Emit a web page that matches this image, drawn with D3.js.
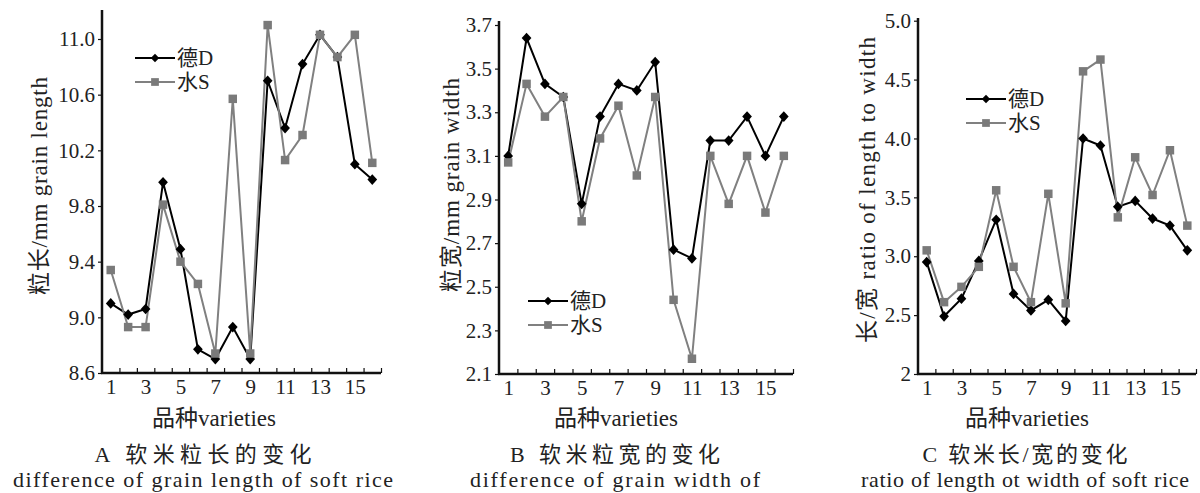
<!DOCTYPE html>
<html>
<head>
<meta charset="utf-8">
<script src="https://cdn.jsdelivr.net/npm/d3@7"></script>
<style>
  html, body { margin: 0; padding: 0; background: #fff; }
  svg { display: block; }
  text { font-family: "Liberation Serif", "Noto Sans CJK SC", serif; fill: #222; }
</style>
</head>
<body>
<div id="chart"></div>
<script>
// varieties 1..16
const varieties = d3.range(1, 17);
const xTickLabels = [1, 3, 5, 7, 9, 11, 13, 15];
const seriesNames = ["德D", "水S"];

// A: grain length (mm)
const lengthD = [9.10, 9.02, 9.06, 9.97, 9.49, 8.77, 8.70, 8.93, 8.70, 10.70, 10.36, 10.82, 11.03, 10.87, 10.10, 9.99];
const lengthS = [9.34, 8.93, 8.93, 9.81, 9.40, 9.24, 8.74, 10.57, 8.74, 11.10, 10.13, 10.31, 11.03, 10.87, 11.03, 10.11];
const lengthTicks = [8.6, 9.0, 9.4, 9.8, 10.2, 10.6, 11.0];

// B: grain width (mm)
const widthD = [3.10, 3.64, 3.43, 3.37, 2.88, 3.28, 3.43, 3.40, 3.53, 2.67, 2.63, 3.17, 3.17, 3.28, 3.10, 3.28];
const widthS = [3.07, 3.43, 3.28, 3.37, 2.80, 3.18, 3.33, 3.01, 3.37, 2.44, 2.17, 3.10, 2.88, 3.10, 2.84, 3.10];
const widthTicks = [2.1, 2.3, 2.5, 2.7, 2.9, 3.1, 3.3, 3.5, 3.7];

// C: length / width ratio
const ratioD = [2.95, 2.49, 2.64, 2.96, 3.31, 2.68, 2.54, 2.63, 2.45, 4.00, 3.94, 3.42, 3.47, 3.32, 3.26, 3.05];
const ratioS = [3.05, 2.61, 2.74, 2.91, 3.56, 2.91, 2.61, 3.53, 2.60, 4.57, 4.67, 3.33, 3.84, 3.52, 3.90, 3.26];
const ratioTicks = [2, 2.5, 3.0, 3.5, 4.0, 4.5, 5.0];

const xTitle = "品种varieties";
const yTitles = ["粒长/mm  grain length", "粒宽/mm  grain width", "长/宽  ratio of length to width"];
const captions1 = ["A  软米粒长的变化", "B  软米粒宽的变化", "C  软米长/宽的变化"];
const captions2 = ["difference of grain length of soft rice", "difference of grain width of", "ratio of length ot width of soft rice"];

const svg = d3.select("#chart").append("svg")
    .attr("width", 1200)
    .attr("height", 493);

const panels = [
  { D: lengthD, S: lengthS, ticks: lengthTicks, fmt: d3.format(".1f"),
    x0: 102, x1: 381, yb: 373, yt: 39, axisTop: 10,
    yLab: { x: 39, y: 186, len: 218 }, legend: { x: 135, y: 58 },
    cx: 203, cap1: 217, cap2: 380, titleX: 214 },
  { D: widthD, S: widthS, ticks: widthTicks, fmt: d3.format(".1f"),
    x0: 499, x1: 793, yb: 374, yt: 25, axisTop: 21,
    yLab: { x: 451, y: 185, len: 214 }, legend: { x: 528, y: 301 },
    cx: 615, cap1: 210, cap2: 290, titleX: 616 },
  { D: ratioD, S: ratioS, ticks: ratioTicks, fmt: d => d === 2 ? "2" : d3.format(".1f")(d),
    x0: 918, x1: 1196, yb: 374, yt: 20.7, axisTop: 18,
    yLab: { x: 867, y: 190, len: 306 }, legend: { x: 966, y: 99 },
    cx: 1025, cap1: 205, cap2: 328, titleX: 1027 }
];

const grey = "#808080";
const diamond = d3.symbol().type(d3.symbolDiamond2).size(60);
const square = d3.symbol().type(d3.symbolSquare).size(72);

panels.forEach((p, i) => {
  const g = svg.append("g");
  const x = d3.scaleLinear().domain([0.5, 16.5]).range([p.x0, p.x1]);
  const y = d3.scaleLinear().domain([p.ticks[0], p.ticks[p.ticks.length - 1]]).range([p.yb, p.yt]);

  // y axis
  const yAxis = g.append("g")
      .attr("transform", `translate(${p.x0},0)`)
      .call(d3.axisLeft(y).tickValues(p.ticks).tickFormat(p.fmt).tickSize(4).tickPadding(3));
  yAxis.select(".domain").remove();
  yAxis.selectAll("line").attr("stroke", "#111").attr("stroke-width", 1.2);
  yAxis.selectAll("text").style("font-size", "21px").attr("fill", "#222");
  g.append("line")
      .attr("x1", p.x0).attr("x2", p.x0)
      .attr("y1", p.axisTop).attr("y2", p.yb + 1)
      .attr("stroke", "#111").attr("stroke-width", 2.5);

  // x axis: inner ticks between varieties, labels on odd varieties
  const xTicks = g.append("g")
      .attr("transform", `translate(0,${p.yb})`)
      .call(d3.axisBottom(x).tickValues(d3.range(1.5, 17, 1)).tickSize(-5).tickFormat(""));
  xTicks.select(".domain").remove();
  xTicks.selectAll("line").attr("stroke", "#111").attr("stroke-width", 1.2);
  g.append("line")
      .attr("x1", p.x0 - 1).attr("x2", p.x1)
      .attr("y1", p.yb).attr("y2", p.yb)
      .attr("stroke", "#111").attr("stroke-width", 2.5);
  const xLabels = g.append("g")
      .attr("transform", `translate(0,${p.yb})`)
      .call(d3.axisBottom(x).tickValues(xTickLabels).tickSize(0).tickPadding(6));
  xLabels.select(".domain").remove();
  xLabels.selectAll("text").style("font-size", "21px").attr("fill", "#222");

  // lines
  const line = d3.line().x((d, j) => x(varieties[j])).y(d => y(d));
  g.append("path").datum(p.D).attr("d", line)
      .attr("fill", "none").attr("stroke", "#000").attr("stroke-width", 2);
  g.append("path").datum(p.S).attr("d", line)
      .attr("fill", "none").attr("stroke", grey).attr("stroke-width", 2);

  g.selectAll("path.dm").data(p.D).join("path").attr("class", "dm")
      .attr("d", diamond)
      .attr("transform", (d, j) => `translate(${x(varieties[j])},${y(d)}) scale(1,1.1)`)
      .attr("fill", "#000");
  g.selectAll("path.sq").data(p.S).join("path").attr("class", "sq")
      .attr("d", square)
      .attr("transform", (d, j) => `translate(${x(varieties[j])},${y(d)})`)
      .attr("fill", "#7a7a7a");

  // legend
  const lg = g.append("g").attr("transform", `translate(${p.legend.x},${p.legend.y})`);
  seriesNames.forEach((name, k) => {
    const row = lg.append("g").attr("transform", `translate(0,${k * 24})`);
    row.append("line").attr("x1", 0).attr("x2", 40).attr("y1", 0).attr("y2", 0)
        .attr("stroke", k === 0 ? "#000" : grey).attr("stroke-width", 2);
    row.append("path")
        .attr("d", k === 0 ? d3.symbol().type(d3.symbolDiamond2).size(45)() : d3.symbol().type(d3.symbolSquare).size(60)())
        .attr("transform", "translate(20,0)")
        .attr("fill", k === 0 ? "#000" : "#7a7a7a");
    row.append("text").attr("x", 42).attr("dy", "0.35em")
        .style("font-size", "21px").text(name);
  });

  // y title
  g.append("text")
      .attr("transform", `translate(${p.yLab.x},${p.yLab.y}) rotate(-90)`)
      .attr("text-anchor", "middle").attr("dy", "0.35em")
      .attr("textLength", p.yLab.len).attr("lengthAdjust", "spacing")
      .style("font-size", "23px")
      .text(yTitles[i]);

  // x title
  g.append("text")
      .attr("x", p.titleX).attr("y", 426)
      .attr("text-anchor", "middle")
      .style("font-size", "23px")
      .text(xTitle);

  // captions
  g.append("text")
      .attr("x", p.cx).attr("y", 462)
      .attr("text-anchor", "middle")
      .attr("textLength", p.cap1).attr("lengthAdjust", "spacing")
      .style("font-size", "22px")
      .text(captions1[i]);
  g.append("text")
      .attr("x", p.cx).attr("y", 487)
      .attr("text-anchor", "middle")
      .attr("textLength", p.cap2).attr("lengthAdjust", "spacing")
      .style("font-size", "22px")
      .text(captions2[i]);
});
</script>
</body>
</html>
